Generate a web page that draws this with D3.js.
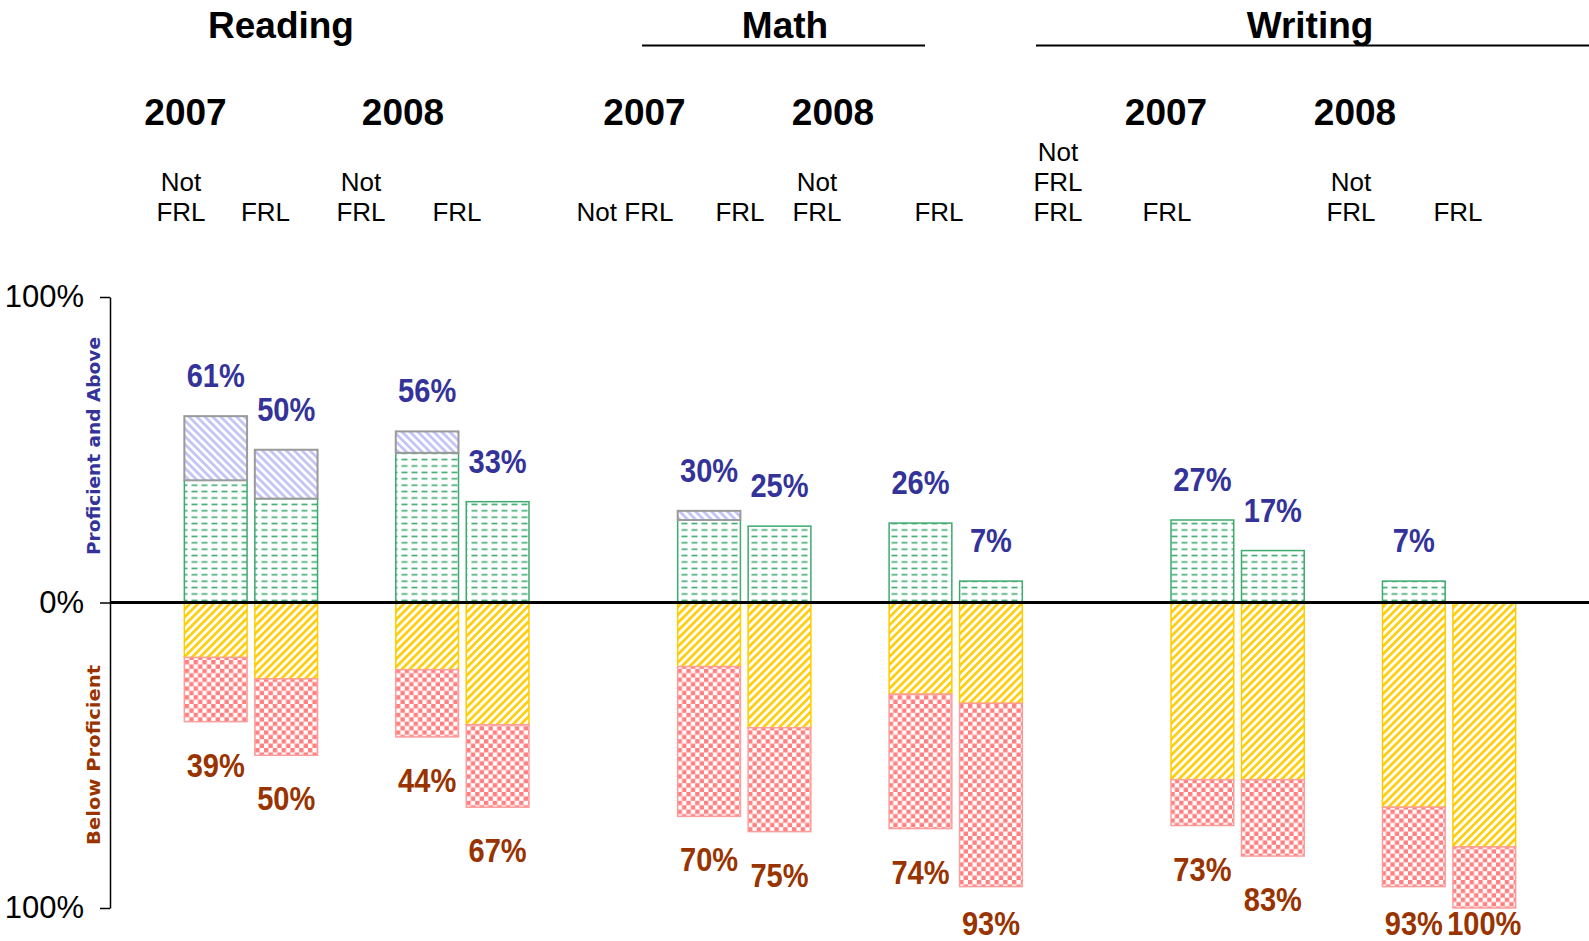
<!DOCTYPE html>
<html>
<head>
<meta charset="utf-8">
<script src="https://cdn.jsdelivr.net/npm/d3@7"></script>
<style>
body { margin: 0; background: #fff; }
svg { display: block; }
</style>
</head>
<body>
<svg width="1589" height="941"></svg>
<script>
const subjects = ["Reading", "Math", "Writing"];
const years = ["2007", "2008"];
const groups = ["Not FRL", "FRL"];

// one value per bar, ordered subject > year > group
const advanced =       [21, 16,  7,  0,  3,  0,  0,  0,  0,  0,  0,  0];
const proficient =     [40, 34, 49, 33, 27, 25, 26,  7, 27, 17,  7,  0];
const partial =        [18, 25, 22, 40, 21, 41, 30, 33, 58, 58, 67, 80];
const unsatisfactory = [21, 25, 22, 27, 49, 34, 44, 60, 15, 25, 26, 20];

// header labels over each bar, as the lines appear in the picture
const groupLabels = [
    ["Not", "FRL"], ["FRL"], ["Not", "FRL"], ["FRL"],
    ["Not FRL"], ["FRL"], ["Not", "FRL"], ["FRL"],
    ["Not", "FRL", "FRL"], ["FRL"], ["Not", "FRL"], ["FRL"]
];

const yTicks = [100, 0, -100];

// header layout (the headers do not sit over the bars in the original)
const subjectX = [281, 785, 1310];
const subjectRule = [null, [642, 925], [1036, 1589]];
const yearX = [185.5, 403, 644.5, 833, 1166, 1355];
const groupX = [181, 265.5, 361, 457, 625, 740, 817, 939, 1058, 1167, 1351, 1458];

const svg = d3.select("svg"),
    width = +svg.attr("width"),
    height = +svg.attr("height");

const axisX = 110;

// 7 slots per subject: gap, NF, F, gap, NF, F, gap
const slotOf = i => Math.floor(i / 4) * 7 + 1 + (i % 4) + (i % 4 >= 2 ? 1 : 0);

const x = d3.scaleBand()
    .domain(d3.range(21))
    .range([axisX, 1590])
    .paddingInner(0.11)
    .paddingOuter(0.055);

const y = d3.scaleLinear()
    .domain([-100, 100])
    .range([908, 297]);

// patterns
const defs = svg.append("defs");

const stripes = (id, color, angle, period, thick) => {
    const p = defs.append("pattern")
        .attr("id", id)
        .attr("patternUnits", "userSpaceOnUse")
        .attr("width", period)
        .attr("height", period)
        .attr("patternTransform", "rotate(" + angle + ")");
    p.append("rect").attr("width", period).attr("height", period).attr("fill", "#fff");
    p.append("rect").attr("width", thick).attr("height", period).attr("fill", color);
};
stripes("pAdv", "#c4c4f6", -45, 5.6, 2.8);
stripes("pPartial", "#ffcc00", 45, 5.6, 2.6);

const dash = defs.append("pattern")
    .attr("id", "pProf")
    .attr("patternUnits", "userSpaceOnUse")
    .attr("width", 10)
    .attr("height", 6.4)
    .attr("y", 2);
dash.append("rect").attr("width", 10).attr("height", 6.4).attr("fill", "#fff");
dash.append("line")
    .attr("x1", 1.5).attr("x2", 7.5).attr("y1", 3.2).attr("y2", 3.2)
    .attr("stroke", "#3daa6e").attr("stroke-width", 1.6);

const cs = 4.4;
const checker = defs.append("pattern")
    .attr("id", "pUnsat")
    .attr("patternUnits", "userSpaceOnUse")
    .attr("width", cs * 2)
    .attr("height", cs * 2);
checker.append("rect").attr("width", cs * 2).attr("height", cs * 2).attr("fill", "#fff");
checker.append("rect").attr("width", cs).attr("height", cs).attr("fill", "#ff8080");
checker.append("rect").attr("x", cs).attr("y", cs).attr("width", cs).attr("height", cs).attr("fill", "#ff8080");

const styles = {
    proficient: { fill: "url(#pProf)", stroke: "#3daa6e" },
    advanced: { fill: "url(#pAdv)", stroke: "#9a9a9a" },
    partial: { fill: "url(#pPartial)", stroke: "#ffcc00" },
    unsatisfactory: { fill: "url(#pUnsat)", stroke: "#ff9c9c" }
};

// stacked rows, below-proficient levels negative
const rows = advanced.map((_, i) => ({
    slot: slotOf(i),
    proficient: proficient[i],
    advanced: advanced[i],
    partial: -partial[i],
    unsatisfactory: -unsatisfactory[i]
}));

const series = d3.stack()
    .keys(["proficient", "advanced", "partial", "unsatisfactory"])
    .offset(d3.stackOffsetDiverging)(rows);

const gBars = svg.append("g");

series.forEach(s => {
    gBars.append("g")
        .selectAll("rect")
        .data(s.filter(d => d[0] !== d[1]))
        .join("rect")
        .attr("x", d => x(d.data.slot))
        .attr("width", x.bandwidth())
        .attr("y", d => y(Math.max(d[0], d[1])))
        .attr("height", d => Math.abs(y(d[0]) - y(d[1])))
        .attr("fill", styles[s.key].fill)
        .attr("stroke", styles[s.key].stroke)
        .attr("stroke-width", s.key === "advanced" ? 2 : 1.5);
});

// zero line
svg.append("line")
    .attr("x1", axisX).attr("x2", width)
    .attr("y1", y(0)).attr("y2", y(0))
    .attr("stroke", "#000").attr("stroke-width", 3);

// axis
const gAxis = svg.append("g")
    .attr("transform", "translate(" + axisX + ",0)")
    .call(d3.axisLeft(y)
        .tickValues(yTicks)
        .tickSize(10)
        .tickSizeOuter(0)
        .tickPadding(16)
        .tickFormat(d => Math.abs(d) + "%"));
gAxis.select(".domain").attr("stroke-width", 1.5);
gAxis.selectAll(".tick line").attr("stroke-width", 1.5);
gAxis.selectAll("text")
    .attr("font-family", "'Liberation Sans', Arial, sans-serif")
    .attr("font-size", 31)
    .attr("fill", "#000");

// axis titles
svg.append("text")
    .attr("transform", "translate(100," + 446 + ") rotate(-90)")
    .attr("text-anchor", "middle")
    .attr("font-family", "'DejaVu Sans', Verdana, sans-serif")
    .attr("font-weight", "bold")
    .attr("font-size", 17)
    .attr("textLength", 218)
    .attr("lengthAdjust", "spacingAndGlyphs")
    .attr("fill", "#333399")
    .text("Proficient and Above");

svg.append("text")
    .attr("transform", "translate(100," + 755 + ") rotate(-90)")
    .attr("text-anchor", "middle")
    .attr("font-family", "'DejaVu Sans', Verdana, sans-serif")
    .attr("font-weight", "bold")
    .attr("font-size", 17)
    .attr("textLength", 180)
    .attr("lengthAdjust", "spacingAndGlyphs")
    .attr("fill", "#993300")
    .text("Below Proficient");

// value labels
const gLabels = svg.append("g")
    .attr("font-family", "'Liberation Sans', Arial, sans-serif")
    .attr("font-weight", "bold")
    .attr("font-size", 33)
    .attr("text-anchor", "middle");

rows.forEach((r, i) => {
    const cx = x(r.slot) + x.bandwidth() / 2;
    const above = advanced[i] + proficient[i];
    const below = partial[i] + unsatisfactory[i];
    if (above > 0) {
        gLabels.append("text")
            .attr("transform", "translate(" + cx + "," + (y(above) - 29) + ") scale(0.88,1)")
            .attr("fill", "#333399")
            .text(above + "%");
    }
    gLabels.append("text")
        .attr("transform", "translate(" + cx + "," + Math.min(y(-below) + 55, 935) + ") scale(0.88,1)")
        .attr("fill", "#993300")
        .text(below + "%");
});

// headers
const gHead = svg.append("g")
    .attr("font-family", "'Liberation Sans', Arial, sans-serif")
    .attr("text-anchor", "middle")
    .attr("fill", "#000");

subjects.forEach((s, i) => {
    gHead.append("text")
        .attr("x", subjectX[i]).attr("y", 38)
        .attr("font-size", 37).attr("font-weight", "bold")
        .text(s);
    if (subjectRule[i]) {
        gHead.append("line")
            .attr("x1", subjectRule[i][0]).attr("x2", subjectRule[i][1])
            .attr("y1", 45.5).attr("y2", 45.5)
            .attr("stroke", "#000").attr("stroke-width", 2);
    }
});

yearX.forEach((yx, i) => {
    gHead.append("text")
        .attr("x", yx).attr("y", 125)
        .attr("font-size", 37).attr("font-weight", "bold")
        .text(years[i % 2]);
});

groupLabels.forEach((lines, i) => {
    lines.forEach((t, k) => {
        gHead.append("text")
            .attr("x", groupX[i])
            .attr("y", 221 - (lines.length - 1 - k) * 30)
            .attr("font-size", 26)
            .text(t);
    });
});
</script>
</body>
</html>
